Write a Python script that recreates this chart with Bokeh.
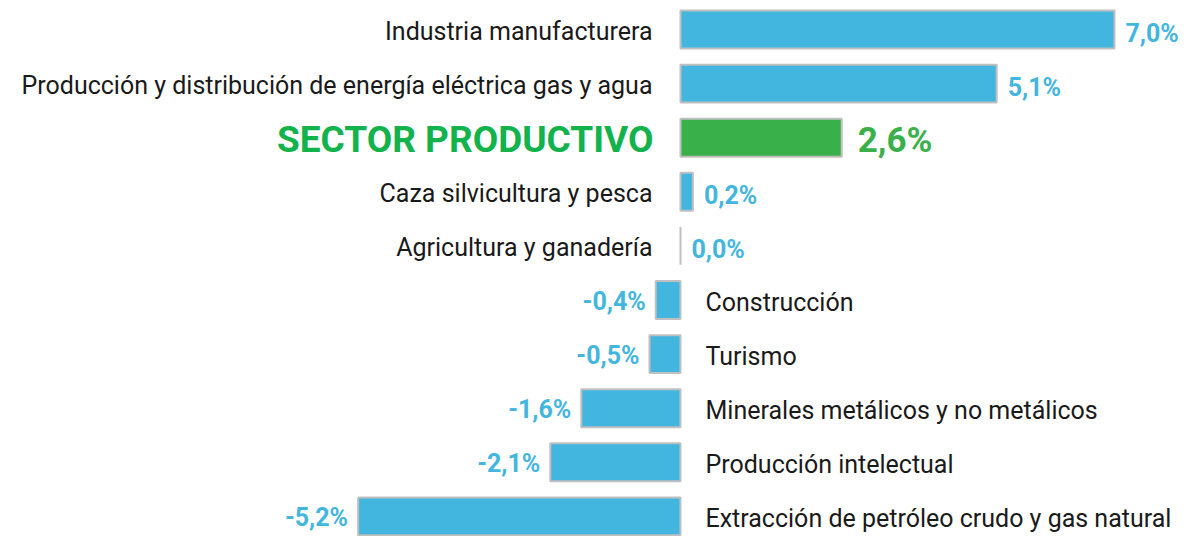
from bokeh.plotting import figure
from bokeh.models import ColumnDataSource, Range1d
from bokeh.core.properties import value
from bokeh.embed import file_html
from bokeh.resources import INLINE

categories = [
    "Industria manufacturera",
    "Producción y distribución de energía eléctrica gas y agua",
    "SECTOR PRODUCTIVO",
    "Caza silvicultura y pesca",
    "Agricultura y ganadería",
    "Construcción",
    "Turismo",
    "Minerales metálicos y no metálicos",
    "Producción intelectual",
    "Extracción de petróleo crudo y gas natural",
]
values = [7.0, 5.1, 2.6, 0.2, 0.0, -0.4, -0.5, -1.6, -2.1, -5.2]
value_labels = ["7,0%", "5,1%", "2,6%", "0,2%", "0,0%", "-0,4%", "-0,5%", "-1,6%", "-2,1%", "-5,2%"]
highlight = "SECTOR PRODUCTIVO"

BLUE = "#43b6e0"
GREEN = "#3ab04a"
GREEN_TXT = "#12b24c"
FONT = "Roboto"

W, H = 1189, 536
zero_px = 680
sx = 62.0
row_px = 54.1
top_px = 29

ys = [-i for i in range(len(categories))]
is_hi = [c == highlight for c in categories]

p = figure(width=W, height=H, output_backend="svg", toolbar_location=None,
           x_range=Range1d(-zero_px / sx, (W - zero_px) / sx),
           y_range=Range1d(-((H - top_px) / row_px), top_px / row_px),
           min_border=0, min_border_left=0, min_border_right=0,
           min_border_top=0, min_border_bottom=0)
p.axis.visible = False
p.grid.visible = False
p.outline_line_color = None
p.background_fill_color = "white"

bar_src = ColumnDataSource(dict(
    y=ys, right=values, left=[0] * len(values),
    fill=[GREEN if h else BLUE for h in is_hi],
))
p.hbar(y="y", left="left", right="right", height=0.70, source=bar_src,
       fill_color="fill", line_color="#c0c0c0", line_width=2)

def split(pos):
    return [i for i in range(len(categories)) if (values[i] >= 0) == pos and not is_hi[i]]

pos_idx = split(True)
neg_idx = split(False)

src_cat_pos = ColumnDataSource(dict(y=[ys[i] for i in pos_idx], x=[0] * len(pos_idx),
                                    t=[categories[i] for i in pos_idx]))
p.text(x="x", y="y", text="t", source=src_cat_pos, text_align="right",
       text_baseline="middle", x_offset=-28, y_offset=2, text_font=value(FONT),
       text_font_size="25px", text_color="#1a1a1a")

src_cat_neg = ColumnDataSource(dict(y=[ys[i] for i in neg_idx], x=[0] * len(neg_idx),
                                    t=[categories[i] for i in neg_idx]))
p.text(x="x", y="y", text="t", source=src_cat_neg, text_align="left",
       text_baseline="middle", x_offset=25, y_offset=2, text_font=value(FONT),
       text_font_size="25px", text_color="#1a1a1a")

src_val_pos = ColumnDataSource(dict(y=[ys[i] for i in pos_idx], x=[values[i] for i in pos_idx],
                                    t=[value_labels[i] for i in pos_idx]))
p.text(x="x", y="y", text="t", source=src_val_pos, text_align="left",
       text_baseline="middle", x_offset=11, y_offset=4, text_font=value(FONT),
       text_font_style="bold", text_font_size="25px", text_color=BLUE)

src_val_neg = ColumnDataSource(dict(y=[ys[i] for i in neg_idx], x=[values[i] for i in neg_idx],
                                    t=[value_labels[i] for i in neg_idx]))
p.text(x="x", y="y", text="t", source=src_val_neg, text_align="right",
       text_baseline="middle", x_offset=-10, y_offset=1, text_font=value(FONT),
       text_font_style="bold", text_font_size="25px", text_color=BLUE)

hi = [i for i in range(len(categories)) if is_hi[i]]
src_hi = ColumnDataSource(dict(y=[ys[i] for i in hi], x0=[0] * len(hi),
                               xv=[values[i] for i in hi],
                               t=[categories[i] for i in hi],
                               v=[value_labels[i] for i in hi]))
p.text(x="x0", y="y", text="t", source=src_hi, text_align="right",
       text_baseline="middle", x_offset=-27, y_offset=2, text_font=value(FONT),
       text_font_style="bold", text_font_size="37px", text_color=GREEN_TXT)
p.text(x="xv", y="y", text="v", source=src_hi, text_align="left",
       text_baseline="middle", x_offset=16, y_offset=3, text_font=value(FONT),
       text_font_style="bold", text_font_size="35px", text_color=GREEN)

open("out.html", "w").write(file_html(p, INLINE))
